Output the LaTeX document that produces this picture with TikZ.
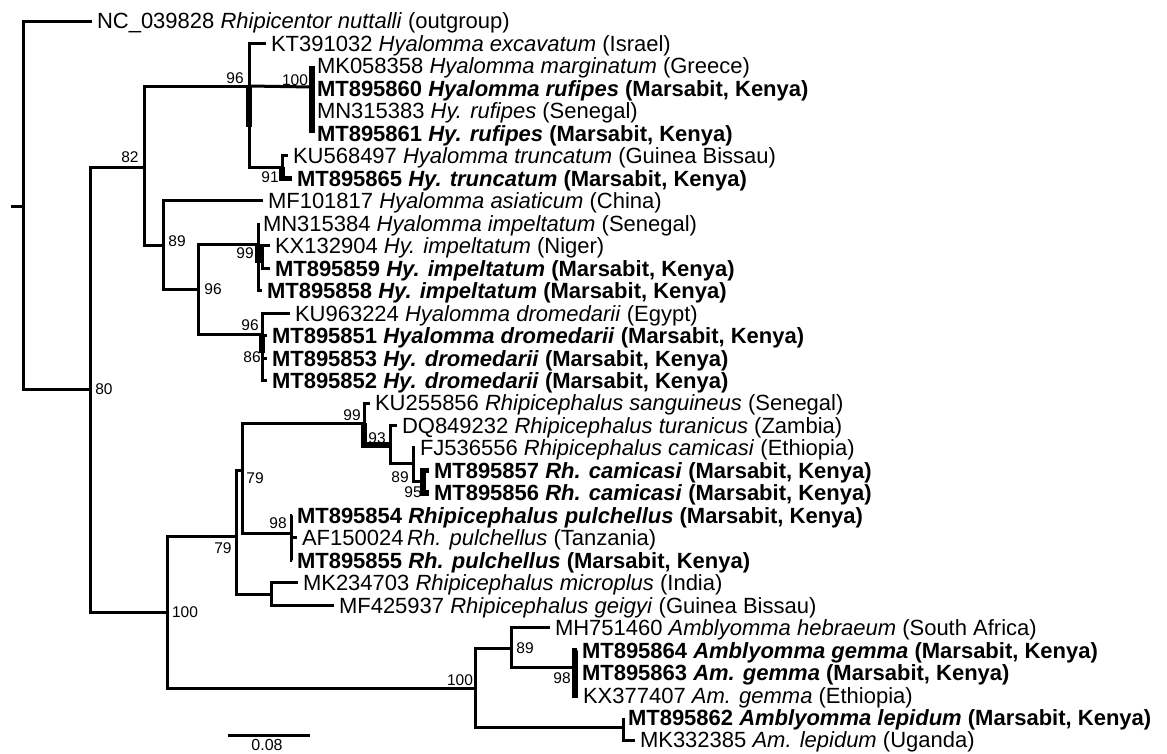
\documentclass[tikz,border=0pt]{standalone}
\usepackage{fontspec}
\setmainfont{Liberation Sans}
\usepackage{tikz}

\begin{document}
\begin{tikzpicture}[x=1pt,y=-1pt,line join=miter,
  br/.style={line width=3pt},
  thk/.style={line width=5.4pt},
  tip/.style={anchor=west,inner xsep=5pt,inner ysep=0pt,outer sep=0pt,text height=15.8pt,text depth=0pt,font=\fontsize{22}{24}\selectfont},
  ours/.style={tip,font=\fontsize{22}{24}\selectfont\bfseries},
  bs/.style={inner sep=0pt,font=\fontsize{15.5}{17}\selectfont}]
\useasboundingbox (0,0) rectangle (1167,753);
\node[tip] (l01) at (92,21) {NC\_039828 \textit{Rhipicentor nuttalli} (outgroup)};
\node[tip] (l02) at (266,43.5) {KT391032 \textit{Hyalomma excavatum} (Israel)};
\node[tip] (l03) at (312,65.9) {MK058358 \textit{Hyalomma marginatum} (Greece)};
\node[ours] (l04) at (312,88.4) {MT895860 \textit{Hyalomma rufipes} (Marsabit, Kenya)};
\node[tip] (l05) at (312,110.9) {MN315383 \textit{Hy. rufipes} (Senegal)};
\node[ours] (l06) at (312,133.4) {MT895861 \textit{Hy. rufipes} (Marsabit, Kenya)};
\node[tip] (l07) at (288,155.8) {KU568497 \textit{Hyalomma truncatum} (Guinea Bissau)};
\node[ours] (l08) at (292,178.3) {MT895865 \textit{Hy. truncatum} (Marsabit, Kenya)};
\node[tip] (l09) at (263,200.8) {MF101817 \textit{Hyalomma asiaticum} (China)};
\node[tip] (l10) at (258,223.2) {MN315384 \textit{Hyalomma impeltatum} (Senegal)};
\node[tip] (l11) at (270,245.7) {KX132904 \textit{Hy. impeltatum} (Niger)};
\node[ours] (l12) at (270,268.2) {MT895859 \textit{Hy. impeltatum} (Marsabit, Kenya)};
\node[ours] (l13) at (262,290.6) {MT895858 \textit{Hy. impeltatum} (Marsabit, Kenya)};
\node[tip] (l14) at (290,313.1) {KU963224 \textit{Hyalomma dromedarii} (Egypt)};
\node[ours] (l15) at (267,335.6) {MT895851 \textit{Hyalomma dromedarii} (Marsabit, Kenya)};
\node[ours] (l16) at (267,358.1) {MT895853 \textit{Hy. dromedarii} (Marsabit, Kenya)};
\node[ours] (l17) at (267,380.5) {MT895852 \textit{Hy. dromedarii} (Marsabit, Kenya)};
\node[tip] (l18) at (370,403) {KU255856 \textit{Rhipicephalus sanguineus} (Senegal)};
\node[tip] (l19) at (397,425.5) {DQ849232 \textit{Rhipicephalus turanicus} (Zambia)};
\node[tip] (l20) at (415,447.9) {FJ536556 \textit{Rhipicephalus camicasi} (Ethiopia)};
\node[ours] (l21) at (429,470.4) {MT895857 \textit{Rh. camicasi} (Marsabit, Kenya)};
\node[ours] (l22) at (429,492.9) {MT895856 \textit{Rh. camicasi} (Marsabit, Kenya)};
\node[ours] (l23) at (292,515.3) {MT895854 \textit{Rhipicephalus pulchellus} (Marsabit, Kenya)};
\node[tip] (l24) at (297,537.8) {AF150024\,\textit{Rh. pulchellus} (Tanzania)};
\node[ours] (l25) at (292,560.3) {MT895855 \textit{Rh. pulchellus} (Marsabit, Kenya)};
\node[tip] (l26) at (298,582.8) {MK234703 \textit{Rhipicephalus microplus} (India)};
\node[tip] (l27) at (334,605.2) {MF425937 \textit{Rhipicephalus geigyi} (Guinea Bissau)};
\node[tip] (l28) at (550,627.7) {MH751460 \textit{Amblyomma hebraeum} (South Africa)};
\node[ours] (l29) at (577,650.2) {MT895864 \textit{Amblyomma gemma} (Marsabit, Kenya)};
\node[ours] (l30) at (577,672.6) {MT895863 \textit{Am. gemma} (Marsabit, Kenya)};
\node[tip] (l31) at (578,695.1) {KX377407 \textit{Am. gemma} (Ethiopia)};
\node[ours] (l32) at (623,717.6) {MT895862 \textit{Amblyomma lepidum} (Marsabit, Kenya)};
\node[tip] (l33) at (635,740) {MK332385 \textit{Am. lepidum} (Uganda)};
\coordinate (rstub) at (11,206);
\coordinate (root) at (23,206);
\coordinate (n80) at (90,389);
\coordinate (n82) at (144,167);
\coordinate (n96a) at (249,86);
\coordinate (z96a) at (249,127);
\coordinate (n100r) at (312,87);
\coordinate (n91) at (282,167);
\coordinate (n89) at (163,245);
\coordinate (n96b) at (198,289);
\coordinate (n99i) at (258,244);
\coordinate (z99i) at (258,263);
\coordinate (n99j) at (262,257);
\coordinate (n96c) at (262,334);
\coordinate (z86) at (262,353);
\coordinate (n100a) at (167,612);
\coordinate (n79b) at (236,536);
\coordinate (n79a) at (242,470);
\coordinate (n99r) at (364,423);
\coordinate (n93) at (390,445);
\coordinate (n89r) at (413,463);
\coordinate (n95) at (423,481);
\coordinate (n98p) at (291,533);
\coordinate (nmm) at (271,594);
\coordinate (n100b) at (475,688);
\coordinate (n89a) at (511,648);
\coordinate (n98a) at (575,667);
\coordinate (nlep) at (623,727);
\draw[br] (rstub) -- (root);
\draw[br] (root) |- (l01.west);
\draw[br] (root) |- (n80);
\draw[br] (n80) |- (n82);
\draw[br] (n80) |- (n100a);
\draw[br] (n82) |- (n96a);
\draw[br] (n82) |- (n89);
\draw[br] (n96a) |- (l02.west);
\draw[br] (n96a) -- (n100r);
\draw[br] (n96a) |- (n91);
\draw[thk] (n96a) -- (z96a);
\draw[thk] (n100r) |- (l03.west);
\draw[thk] (n100r) |- (l06.west);
\draw[br] (n100r) |- (l04.west);
\draw[br] (n100r) |- (l05.west);
\draw[br] (n91) |- (l07.west);
\draw[thk] (n91) |- (l08.west);
\draw[br] (n89) |- (l09.west);
\draw[br] (n89) |- (n96b);
\draw[br] (n96b) |- (n99i);
\draw[br] (n96b) |- (n96c);
\draw[br] (n99i) |- (l10.west);
\draw[br] (n99i) |- (l13.west);
\draw[thk] (n99i) -- (z99i);
\draw[br] (n99i) |- (n99j);
\draw[br] (n99j) |- (l11.west);
\draw[br] (n99j) |- (l12.west);
\draw[br] (n96c) |- (l14.west);
\draw[br] (n96c) |- (l15.west);
\draw[br] (n96c) |- (l16.west);
\draw[br] (n96c) |- (l17.west);
\draw[thk] (n96c) -- (z86);
\draw[br] (n100a) |- (n79b);
\draw[br] (n100a) |- (n100b);
\draw[br] (n79b) |- (n79a);
\draw[br] (n79b) |- (nmm);
\draw[br] (n79a) |- (n99r);
\draw[br] (n79a) |- (n98p);
\draw[br] (n99r) |- (l18.west);
\draw[thk] (n99r) |- (n93);
\draw[br] (n93) |- (l19.west);
\draw[br] (n93) |- (n89r);
\draw[br] (n89r) |- (l20.west);
\draw[br] (n89r) |- (n95);
\draw[thk] (n95) |- (l21.west);
\draw[thk] (n95) |- (l22.west);
\draw[br] (n98p) |- (l23.west);
\draw[br] (n98p) |- (l24.west);
\draw[br] (n98p) |- (l25.west);
\draw[br] (nmm) |- (l26.west);
\draw[br] (nmm) |- (l27.west);
\draw[br] (n100b) |- (n89a);
\draw[br] (n100b) |- (nlep);
\draw[br] (n89a) |- (l28.west);
\draw[br] (n89a) |- (n98a);
\draw[thk] (n98a) |- (l29.west);
\draw[br] (n98a) |- (l30.west);
\draw[thk] (n98a) |- (l31.west);
\draw[br] (nlep) |- (l32.west);
\draw[br] (nlep) |- (l33.west);
\node[bs] (b82) at (130,157) {82};
\node[bs] (b96a) at (235,78) {96};
\node[bs] (b100r) at (295,80) {100};
\node[bs] (b91) at (270,177) {91};
\node[bs] (b80) at (104,389) {80};
\node[bs] (b89) at (177,241) {89};
\node[bs] (b96b) at (213,289) {96};
\node[bs] (b99i) at (245,253) {99};
\node[bs] (b96c) at (250,325) {96};
\node[bs] (b86) at (252,357) {86};
\node[bs] (b100a) at (185,612) {100};
\node[bs] (b79a) at (255,478) {79};
\node[bs] (b79b) at (223,548) {79};
\node[bs] (b99r) at (352,415) {99};
\node[bs] (b93) at (377,438) {93};
\node[bs] (b89r) at (400,477) {89};
\node[bs] (b95) at (413,492) {95};
\node[bs] (b98p) at (278,523) {98};
\node[bs] (b100b) at (460,680) {100};
\node[bs] (b89a) at (525,648) {89};
\node[bs] (b98a) at (562,678) {98};
\coordinate (sbl) at (228,735);
\coordinate (sbr) at (310,735);
\draw[br] (sbl) -- (sbr);
\node[inner sep=0pt,font=\fontsize{16}{18}\selectfont] (sbt) at (267,745) {0.08};
\end{tikzpicture}
\end{document}
